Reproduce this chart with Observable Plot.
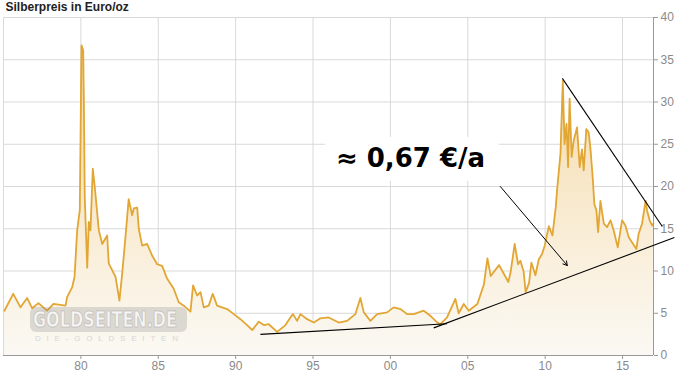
<!DOCTYPE html>
<html><head><meta charset="utf-8">
<script src="https://cdn.jsdelivr.net/npm/d3@7"></script>
<script src="https://cdn.jsdelivr.net/npm/@observablehq/plot@0.6"></script>
<style>body{margin:0;background:#fff;} #chart svg{display:block;}</style>
</head><body><div id="chart"></div>
<script>
const title = "Silberpreis in Euro/oz";
const annotationText = "≈ 0,67 €/a";
const watermarkText = "GOLDSEITEN.DE";
const watermarkSub = "DIE-GOLDSEITEN";

const years = [1975.06,1975.63,1976.10,1976.53,1976.85,1977.26,1977.82,1978.23,1979.01,1979.11,1979.44,1979.59,1979.76,1979.93,1980.04,1980.15,1980.19,1980.25,1980.41,1980.51,1980.62,1980.77,1980.90,1981.16,1981.38,1981.70,1981.80,1982.24,1982.49,1982.67,1982.88,1983.09,1983.31,1983.42,1983.64,1983.74,1983.96,1984.28,1984.61,1984.93,1985.25,1985.57,1986.00,1986.32,1986.65,1987.08,1987.25,1987.51,1987.73,1987.94,1988.26,1988.52,1988.80,1989.45,1989.88,1990.31,1990.74,1991.07,1991.49,1991.82,1992.14,1992.68,1993.22,1993.54,1993.71,1993.97,1994.19,1994.62,1995.05,1995.48,1996.01,1996.66,1997.20,1997.74,1998.06,1998.28,1998.71,1999.14,1999.79,2000.21,2000.65,2001.08,2001.51,2002.15,2002.58,2003.04,2003.23,2003.66,2004.20,2004.41,2004.74,2005.06,2005.62,2006.04,2006.27,2006.48,2007.02,2007.32,2007.62,2007.77,2008.03,2008.25,2008.40,2008.61,2008.74,2008.96,2009.11,2009.37,2009.59,2009.80,2009.97,2010.24,2010.47,2010.68,2010.79,2010.99,2011.14,2011.25,2011.38,2011.48,2011.58,2011.71,2011.84,2012.06,2012.23,2012.38,2012.49,2012.66,2012.81,2012.92,2013.07,2013.18,2013.31,2013.42,2013.57,2013.79,2014.00,2014.22,2014.43,2014.69,2014.97,2015.18,2015.40,2015.61,2015.89,2016.04,2016.26,2016.49,2016.58,2016.75,2016.91,2016.99];
const prices = [5.3,7.3,5.7,6.8,5.6,6.2,5.3,6.1,5.9,6.9,8.1,9.3,14.8,17.2,36.7,36.1,30.6,18.7,10.4,15.8,14.8,22.1,19.9,14.8,13.2,14.2,10.9,9.3,6.5,9.7,14.0,18.5,16.6,17.4,17.5,15.0,13.0,13.2,11.8,10.8,10.6,9.1,7.9,6.3,5.9,5.2,8.3,7.1,7.5,5.7,5.9,7.3,5.9,5.5,4.9,4.3,3.6,3.0,4.0,3.6,3.7,2.8,3.6,4.5,4.9,4.1,4.9,4.3,3.9,4.4,4.5,3.9,4.1,4.9,6.8,5.1,4.1,4.9,5.1,5.7,5.5,4.9,4.9,5.3,4.7,3.9,3.7,4.5,6.7,5.0,6.1,5.3,6.1,8.4,11.5,9.4,10.7,9.7,8.7,9.9,13.2,10.8,11.2,9.9,7.5,8.6,11.0,9.5,11.4,12.0,13.0,15.3,14.2,17.5,20.0,23.9,32.5,25.0,27.4,22.3,30.4,23.5,25.4,27.0,22.3,24.4,21.9,26.8,26.4,24.6,21.1,17.9,17.2,14.6,18.3,15.6,15.2,16.0,14.8,12.8,16.0,15.4,14.0,13.4,12.6,14.4,15.6,18.3,17.2,16.0,15.4,15.6];

const xDomain = [1975, 2017];
const yDomain = [0, 40];
const xTicks = [1980, 1985, 1990, 1995, 2000, 2005, 2010, 2015];
const xTickLabels = ["80", "85", "90", "95", "00", "05", "10", "15"];
const yTicks = [0, 5, 10, 15, 20, 25, 30, 35, 40];

// annotation lines (data units)
const trendX1 = [1991.6, 2002.8, 2011.11];
const trendY1 = [2.5, 3.27, 32.8];
const trendX2 = [2003.66, 2018.35, 2017.57];
const trendY2 = [3.75, 13.96, 15.27];
const arrowFrom = [2007.1, 20.0];
const arrowTo = [2011.43, 10.65];
const labelBox = [1995.8, 2007.04, 20.6, 25.8];
const labelPos = [2001.3, 23.3];

const data = years.map((y, i) => ({year: y, price: prices[i]}));
const trends = trendX1.map((x, i) => ({x1: x, y1: trendY1[i], x2: trendX2[i], y2: trendY2[i]}));

const plot = Plot.plot({
  width: 677, height: 374,
  marginLeft: 3, marginRight: 24, marginTop: 17, marginBottom: 19,
  style: {fontFamily: "'Liberation Sans', Arial, sans-serif", fontSize: "12px", background: "#fff", overflow: "visible"},
  x: {domain: xDomain, label: null},
  y: {domain: yDomain, label: null},
  marks: [
    Plot.gridY(yTicks.filter(d => d > 0), {stroke: "#d9d9d9", strokeOpacity: 1}),
    Plot.gridX(xTicks, {stroke: "#d9d9d9", strokeOpacity: 1}),
    Plot.ruleX([xDomain[0]], {stroke: "#d9d9d9"}),
    Plot.areaY(data, {x: "year", y: "price", fill: "url(#silverGrad)", curve: "linear"}),
    Plot.lineY(data, {x: "year", y: "price", stroke: "#e2a634", strokeWidth: 1.8}),
    Plot.ruleY([yDomain[0]], {stroke: "#999"}),
    Plot.ruleX([xDomain[1]], {stroke: "#999"}),
    Plot.axisX({ticks: xTicks, tickFormat: d => xTickLabels[xTicks.indexOf(d)], tickSize: 4, tickPadding: 2, stroke: "#999", fill: "#8a8a8a", fontSize: 12}),
    Plot.axisY({anchor: "right", ticks: yTicks, tickSize: 4, tickPadding: 3, stroke: "#999", fill: "#8a8a8a", fontSize: 12}),
    Plot.link(trends, {x1: "x1", y1: "y1", x2: "x2", y2: "y2", stroke: "#000", strokeWidth: 1.1}),
    Plot.rect([labelBox], {x1: d => d[0], x2: d => d[1], y1: d => d[2], y2: d => d[3], fill: "#fff"}),
    Plot.text([annotationText], {x: labelPos[0], y: labelPos[1], text: d => d, fontSize: 26, fontWeight: "bold", fontFamily: "'DejaVu Sans', Verdana, sans-serif", fill: "#000", textAnchor: "middle", lineAnchor: "middle"}),
    Plot.arrow([0], {x1: arrowFrom[0], y1: arrowFrom[1], x2: arrowTo[0], y2: arrowTo[1], stroke: "#000", strokeWidth: 1, headLength: 7}),
    Plot.text([title], {frameAnchor: "top-left", text: d => d, dx: 2, dy: -10, fontSize: 12, fontWeight: "bold", fill: "#222", textAnchor: "start", lineAnchor: "middle"})
  ]
});

const svg = d3.select(plot);
const defs = svg.insert("defs", ":first-child");
const g = defs.append("linearGradient").attr("id", "silverGrad").attr("gradientUnits", "userSpaceOnUse")
  .attr("x1", 0).attr("x2", 0).attr("y1", 17).attr("y2", 355);
g.append("stop").attr("offset", "0%").attr("stop-color", "#f2d49c");
g.append("stop").attr("offset", "50%").attr("stop-color", "#f8e8ca");
g.append("stop").attr("offset", "100%").attr("stop-color", "#fbf9f4");

const wm = svg.append("g").attr("pointer-events", "none").attr("text-anchor", "start");
wm.append("rect").attr("x", 30).attr("y", 307).attr("width", 157).attr("height", 25).attr("rx", 6)
  .attr("fill", "#8c8c8c").attr("opacity", 0.28);
wm.append("text").text(watermarkText).attr("x", 33).attr("y", 327).attr("text-anchor", "start")
  .attr("textLength", 144).attr("lengthAdjust", "spacingAndGlyphs")
  .attr("font-family", "'Liberation Sans Narrow', 'DejaVu Sans Condensed', 'Liberation Sans', sans-serif")
  .attr("font-size", 21).attr("font-weight", "bold")
  .attr("fill", "#ffffff").attr("fill-opacity", 0.75).attr("stroke", "#a0a0a0").attr("stroke-opacity", 0.45).attr("stroke-width", 1);
wm.append("text").text(watermarkSub).attr("x", 35).attr("y", 341).attr("text-anchor", "start")
  .attr("textLength", 143).attr("lengthAdjust", "spacing")
  .attr("font-family", "'Liberation Sans', sans-serif").attr("font-size", 8)
  .attr("fill", "#d6d6d6");

document.getElementById("chart").appendChild(plot);
</script>
</body></html>
